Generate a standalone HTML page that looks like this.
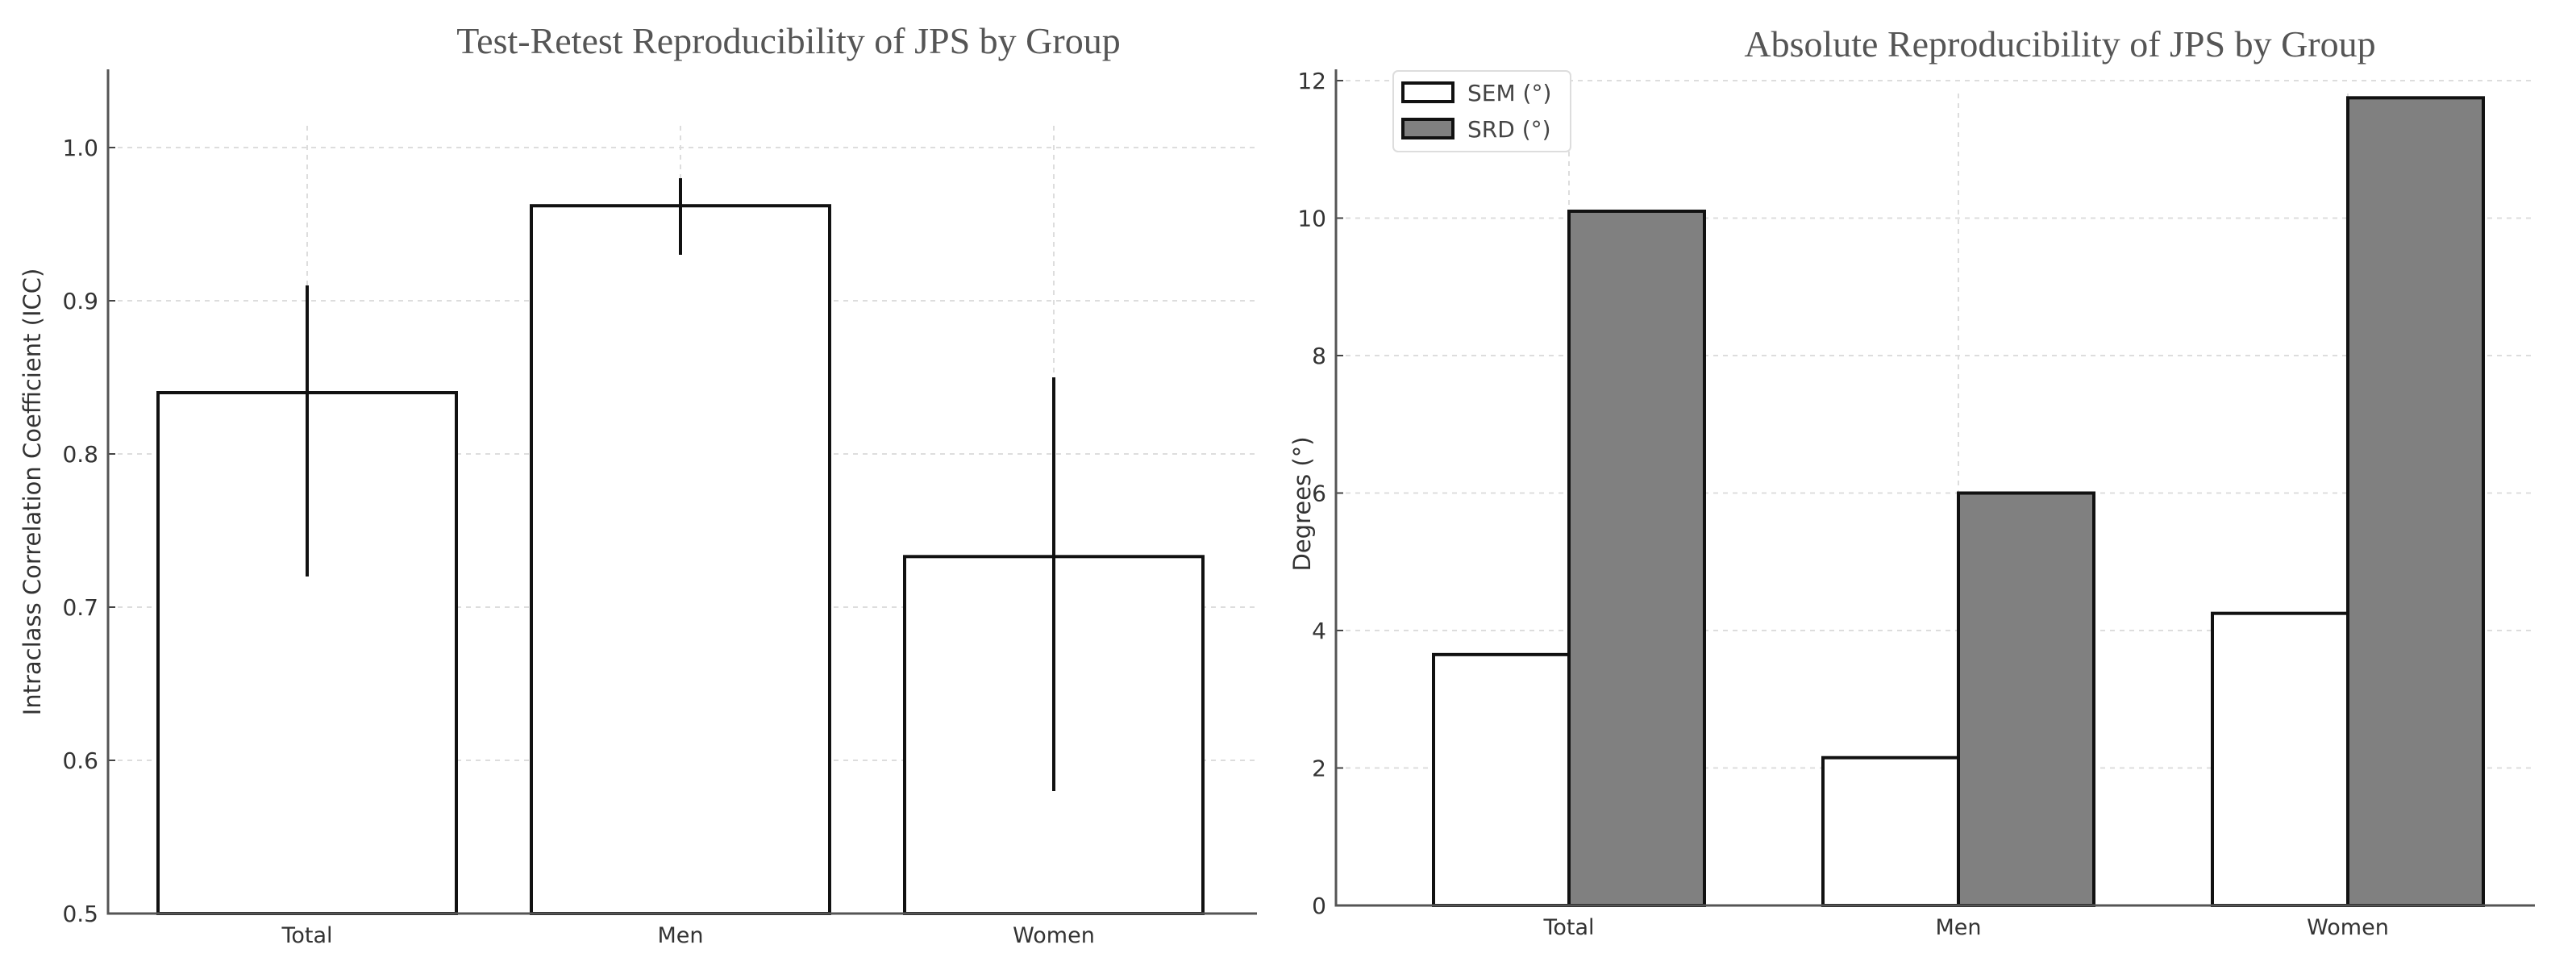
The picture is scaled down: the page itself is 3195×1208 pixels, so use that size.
<!DOCTYPE html>
<html><head><meta charset="utf-8"><style>
body{margin:0;background:#fff;}
svg text{font-family:"DejaVu Sans","Liberation Sans",sans-serif;}
</style></head><body>
<svg id="c" width="3195" height="1203" xmlns="http://www.w3.org/2000/svg"></svg>
<script>
const groups=["Total","Men","Women"];
const iccValues=[0.84,0.962,0.733];
const iccLow=[0.72,0.93,0.58];
const iccHigh=[0.91,0.98,0.85];
const iccTicks=[0.5,0.6,0.7,0.8,0.9,1.0];
const semValues=[3.65,2.15,4.25];
const srdValues=[10.1,6.0,11.75];
const degTicks=[0,2,4,6,8,10,12];

const NS="http://www.w3.org/2000/svg";
const svg=document.getElementById('c');
function el(t,a,p){const e=document.createElementNS(NS,t);for(const k in a)e.setAttribute(k,a[k]);(p||svg).appendChild(e);return e;}

// Left chart
const L={x0:134,x1:1559,yb:1133,yt:86};
const yL=v=>1133-(v-0.5)/0.5*(1133-183);
const xL=i=>381+i*463;
let g=el('g',{});


let t=el('text',{x:978,y:66,'font-size':46,fill:'#555','text-anchor':'middle',style:'font-family:"Liberation Serif",serif'},g);
t.textContent='Test-Retest Reproducibility of JPS by Group';


iccTicks.forEach(v=>{
  const y=yL(v);
  if(v>0.5){const l=el('line',{x1:L.x0,x2:L.x1,y1:y,y2:y,stroke:'#ddd','stroke-dasharray':'6,6','stroke-width':2},g);
  
  }
  el('line',{x1:L.x0,x2:L.x0+9,y1:y,y2:y,stroke:'#444','stroke-width':2},g);
  const tx=el('text',{x:L.x0-12,y:y+10,'font-size':28,fill:'#333','text-anchor':'end'},g);
  tx.textContent=v.toFixed(1);
  
  
});
groups.forEach((n,i)=>{
  const cx=xL(i);
  const gl=el('line',{x1:cx,x2:cx,y1:L.yt+70,y2:L.yb,stroke:'#ddd','stroke-dasharray':'6,6','stroke-width':2},g);
  
  
  const b=el('rect',{x:cx-185,y:yL(iccValues[i]),width:370,height:L.yb-yL(iccValues[i]),fill:'#fff',stroke:'#111','stroke-width':4},g);
  
  
  const e=el('line',{x1:cx,x2:cx,y1:yL(iccHigh[i]),y2:yL(iccLow[i]),stroke:'#111','stroke-width':4},g);
  
  
  const tx=el('text',{x:cx,y:L.yb+36,'font-size':27,fill:'#333','text-anchor':'middle'},g);
  tx.textContent=n;
  
  
});
let ax=el('path',{d:`M${L.x0},${L.yt} V${L.yb} H${L.x1}`,fill:'none',stroke:'#555','stroke-width':3},g);


t=el('text',{x:0,y:0,'font-size':29,fill:'#333','text-anchor':'middle',transform:`translate(50,610) rotate(-90)`},g);
t.textContent='Intraclass Correlation Coefficient (ICC)';



// Right chart
const R={x0:1657,x1:3144,yb:1123,yt:86};
const yR=v=>1123-v*85.25;
const xR=i=>1946+i*483;
const bw=168;
g=el('g',{});


t=el('text',{x:2555,y:70,'font-size':46,fill:'#555','text-anchor':'middle',style:'font-family:"Liberation Serif",serif'},g);
t.textContent='Absolute Reproducibility of JPS by Group';


degTicks.forEach(v=>{
  const y=yR(v);
  if(v>0){const l=el('line',{x1:R.x0,x2:R.x1,y1:y,y2:y,stroke:'#ddd','stroke-dasharray':'6,6','stroke-width':2},g);
  
  }
  el('line',{x1:R.x0,x2:R.x0+9,y1:y,y2:y,stroke:'#444','stroke-width':2},g);
  const tx=el('text',{x:R.x0-12,y:y+10,'font-size':28,fill:'#333','text-anchor':'end'},g);
  tx.textContent=v;
  
  
});
groups.forEach((n,i)=>{
  const cx=xR(i);
  const gl=el('line',{x1:cx,x2:cx,y1:R.yt+30,y2:R.yb,stroke:'#ddd','stroke-dasharray':'6,6','stroke-width':2},g);
  
  
  const b1=el('rect',{x:cx-bw,y:yR(semValues[i]),width:bw,height:R.yb-yR(semValues[i]),fill:'#fff',stroke:'#111','stroke-width':4},g);
  
  
  const b2=el('rect',{x:cx,y:yR(srdValues[i]),width:bw,height:R.yb-yR(srdValues[i]),fill:'#808080',stroke:'#111','stroke-width':4},g);
  
  
  const tx=el('text',{x:cx,y:R.yb+36,'font-size':27,fill:'#333','text-anchor':'middle'},g);
  tx.textContent=n;
  
  
});
ax=el('path',{d:`M${R.x0},${R.yt} V${R.yb} H${R.x1}`,fill:'none',stroke:'#555','stroke-width':3},g);


t=el('text',{x:0,y:0,'font-size':29,fill:'#333','text-anchor':'middle',transform:`translate(1625,625) rotate(-90)`},g);
t.textContent='Degrees (°)';


// legend
const lg=el('g',{},g);


el('rect',{x:1728,y:88,width:220,height:100,rx:6,fill:'#fff',stroke:'#ddd','stroke-width':2},lg);
const items=[["SEM (°)","#fff"],["SRD (°)","#808080"]];
items.forEach((it,k)=>{
  const y=103+k*45;
  const sw=el('rect',{x:1740,y:y,width:62,height:23,fill:it[1],stroke:'#111','stroke-width':4},lg);
  
  
  const tx=el('text',{x:1820,y:y+22,'font-size':28,fill:'#444'},lg);
  tx.textContent=it[0];
  
  
});
</script>
</body></html>
